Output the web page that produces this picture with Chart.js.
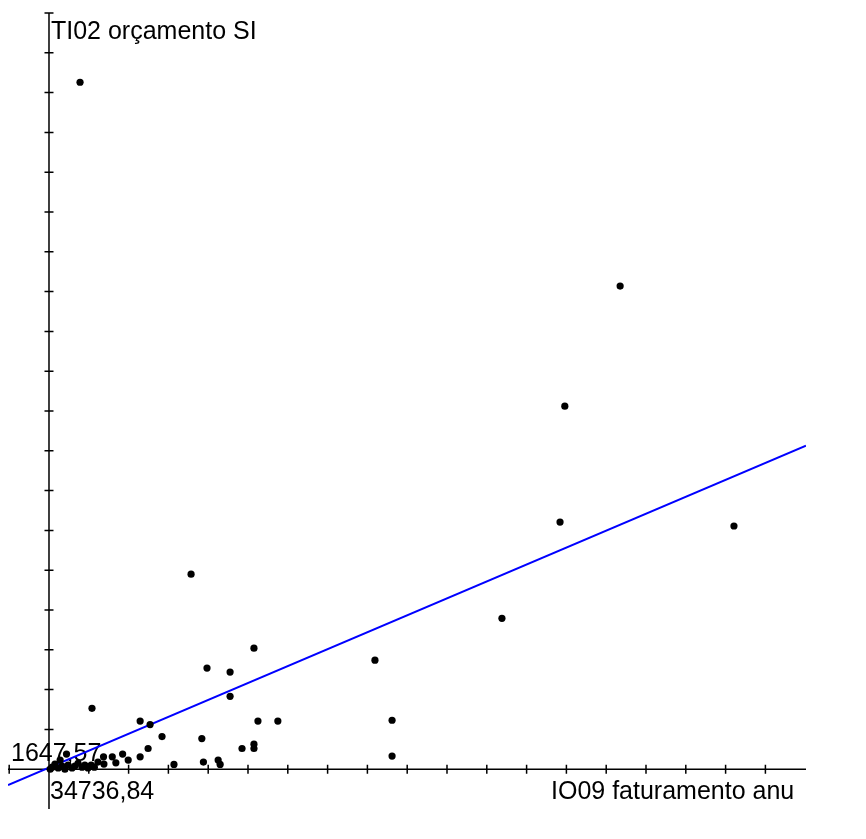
<!DOCTYPE html>
<html>
<head>
<meta charset="utf-8">
<script src="https://cdn.jsdelivr.net/npm/chart.js@4.4.0/dist/chart.umd.min.js"></script>
<style>
  body { margin: 0; background: #fff; }
  #wrap { width: 866px; height: 839px; }
</style>
</head>
<body>
<div id="wrap"><canvas id="myChart" width="866" height="839"></canvas></div>
<script>
// values in tick intervals, measured from the axis crossing point
const pointsX = [0.78, 14.35, 12.96, 12.84, 17.21, 3.57, 11.38, 5.15, 8.19, 3.97, 4.55, 4.55, 1.08,
  8.62, 8.62, 2.29, 2.54, 5.25, 5.75, 2.84, 3.84, 4.85, 5.15, 5.15, 2.49, 1.85, 2.29, 1.99, 3.14,
  3.88, 4.25, 4.30, 1.59, 1.37, 1.68, 1.38, 1.14, 0.44, 0.28,
  0.08, 0.15, 0.23, 0.33, 0.40, 0.48, 0.58, 0.65, 0.73, 0.83, 0.90, 0.98, 1.06, 1.23, 0.03];
const pointsY = [17.26, 12.14, 9.12, 6.21, 6.11, 4.90, 3.79, 3.04, 2.74, 2.54, 2.44, 1.83, 1.53,
  1.23, 0.33, 1.21, 1.12, 1.21, 1.21, 0.82, 0.77, 0.52, 0.63, 0.52, 0.52, 0.38, 0.31, 0.23, 0.12,
  0.18, 0.23, 0.12, 0.31, 0.31, 0.16, 0.13, 0.05, 0.38, 0.23,
  0.05, 0.13, 0.03, 0.08, 0.00, 0.10, 0.03, 0.08, 0.15, 0.05, 0.10, 0.03, 0.10, 0.18, 0.00];

// trend line ends
const trendX = [-1.03, 19.02];
const trendY = [-0.40, 8.13];

// axis ranges and ticks
const xRange = [-1.03, 19.02];
const yRange = [-1.0, 19.0];
const xTicks = [-1, 1, 2, 3, 4, 5, 6, 7, 8, 9, 10, 11, 12, 13, 14, 15, 16, 17, 18];
const yTicks = [1, 2, 3, 4, 5, 6, 7, 8, 9, 10, 11, 12, 13, 14, 15, 16, 17, 18, 19];

const xTitle = 'IO09 faturamento anu';
const yTitle = 'TI02 orçamento SI';
const xOriginLabel = '34736,84';
const yOriginLabel = '1647,57';

const axesPlugin = {
  id: 'axes',
  beforeDatasetsDraw(chart) {
    const ctx = chart.ctx;
    const xs = chart.scales.x;
    const ys = chart.scales.y;
    const x0 = xs.getPixelForValue(0);
    const y0 = ys.getPixelForValue(0);
    ctx.save();
    ctx.strokeStyle = '#000';
    ctx.lineWidth = 1.5;
    ctx.beginPath();
    // x axis
    ctx.moveTo(xs.getPixelForValue(xRange[0]), y0);
    ctx.lineTo(xs.getPixelForValue(xRange[1]), y0);
    // y axis
    ctx.moveTo(x0, ys.getPixelForValue(yRange[0]));
    ctx.lineTo(x0, ys.getPixelForValue(yRange[1]));
    xTicks.forEach(t => {
      const px = xs.getPixelForValue(t);
      ctx.moveTo(px, y0 - 4.5);
      ctx.lineTo(px, y0 + 4.5);
    });
    yTicks.forEach(t => {
      const py = ys.getPixelForValue(t);
      ctx.moveTo(x0 - 4.5, py);
      ctx.lineTo(x0 + 4.5, py);
    });
    ctx.stroke();

    // texts
    ctx.fillStyle = '#000';
    ctx.font = "25px 'Liberation Sans', Arial, sans-serif";
    ctx.textBaseline = 'alphabetic';
    ctx.textAlign = 'left';
    ctx.fillText(yTitle, x0 + 2, 39);
    ctx.fillText(yOriginLabel, 11, y0 - 8);
    ctx.fillText(xOriginLabel, x0 + 1, y0 + 30);
    ctx.fillText(xTitle, 551, y0 + 30);
    ctx.restore();
  }
};

const ctx = document.querySelector('#myChart').getContext('2d');
const chart = new Chart(ctx, {
  type: 'scatter',
  data: {
    datasets: [
      {
        label: 'pontos',
        data: pointsX.map((x, i) => ({ x, y: pointsY[i] })),
        backgroundColor: '#000',
        borderWidth: 0,
        pointRadius: 3.6,
        order: 0
      },
      {
        type: 'line',
        label: 'tendência',
        data: trendX.map((x, i) => ({ x, y: trendY[i] })),
        borderColor: '#0000ff',
        borderWidth: 2,
        pointRadius: 0,
        fill: false,
        order: 1
      }
    ]
  },
  options: {
    responsive: false,
    animation: false,
    layout: { padding: { left: 8, right: 60, top: 13, bottom: 30 } },
    plugins: { legend: { display: false }, tooltip: { enabled: false } },
    scales: {
      x: { type: 'linear', min: xRange[0], max: xRange[1], display: false },
      y: { type: 'linear', min: yRange[0], max: yRange[1], display: false }
    }
  },
  plugins: [axesPlugin]
});
</script>
</body>
</html>
